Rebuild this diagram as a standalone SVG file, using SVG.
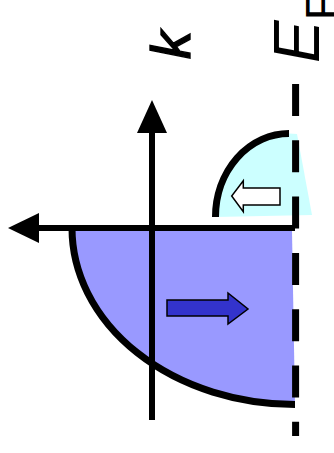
<svg xmlns="http://www.w3.org/2000/svg" width="334" height="453" viewBox="0 0 334 453">
<style>
.ln{stroke:#000;stroke-width:7;fill:none}
.ax{stroke:#000;stroke-width:6;fill:none}
.lbl{font-family:"Liberation Sans",Arial,sans-serif;font-style:italic;fill:#000}
</style>
<rect width="334" height="453" fill="#fff"/>
<g id="regions">
<path id="filled" d="M72,228 A223,176.5 0 0 0 295,404.5 L292,231 Z" fill="#9999ff"/>
<path id="empty" d="M215.5,217 A73.5,83.5 0 0 1 289,133.5 L297,134 L312,215 Z" fill="#ccffff"/>
</g>
<g id="connectors">
<path class="ln" d="M72,228 A223,176.5 0 0 0 295,404.5"/>
<path class="ln" d="M215.5,217 A73.5,83.5 0 0 1 289,133.5"/>
<line class="ax" x1="152" y1="130" x2="152" y2="420"/>
<polygon points="152,100 167,133 137,133" fill="#000"/>
<line class="ax" x1="36" y1="228" x2="295" y2="228"/>
<polygon points="8,228 39,213 39,243" fill="#000"/>
<line x1="295.6" y1="84" x2="295.6" y2="436" stroke="#000" stroke-width="7" stroke-dasharray="32 24.3"/>
</g>
<g id="arrows">
<polygon id="hollow" points="280,188 243.3,188 243.3,180.7 231.7,196 243.3,211.7 243.3,205 280,205" fill="#fff" stroke="#000" stroke-width="1.5"/>
<polygon id="solid" points="167,300 228,300 228,293 248,309 228,324 228,316 167,316" fill="#3333cc" stroke="#000" stroke-width="1.5"/>
</g>
<g id="labels">
<text class="lbl" transform="translate(190,59) rotate(-90)" font-size="56" stroke="#000" stroke-width="1.4">k</text>
<text class="lbl" transform="translate(319,63) rotate(-90)" font-size="64">E<tspan font-size="46" font-style="normal" dy="19">F</tspan></text>
</g>
</svg>
